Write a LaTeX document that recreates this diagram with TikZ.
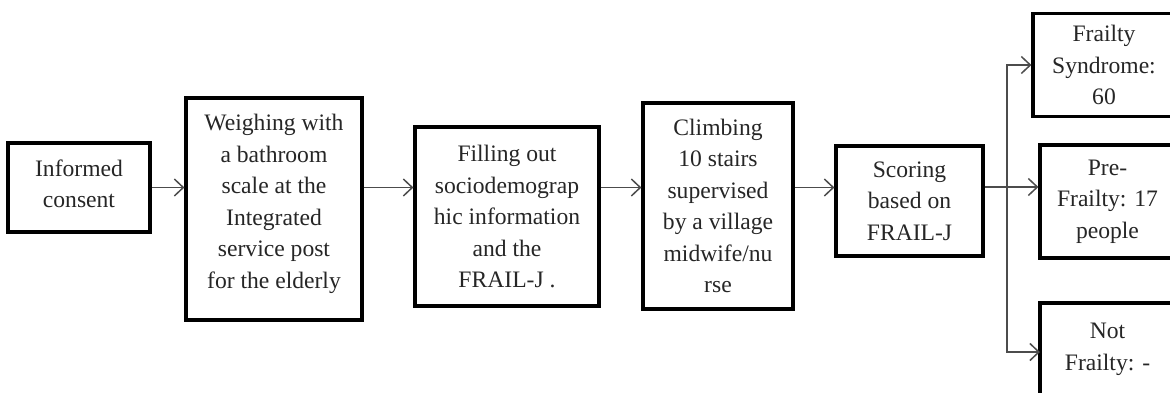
\documentclass[tikz,border=0pt]{standalone}
\usepackage{fontspec}
\setmainfont{Liberation Serif}
\usetikzlibrary{arrows.meta}
\begin{document}
\begin{tikzpicture}[x=1pt,y=-1pt,
  box/.style={draw=black,line width=3.2pt,inner sep=0pt,align=center,
    font=\fontsize{23.6}{31.5}\selectfont,text=black!85},
  arr/.style={draw=black!70,line width=1.5pt,-{Straight Barb[length=9pt,width=17pt,line width=1.5pt]}},
  ln/.style={draw=black!70,line width=1.5pt}]
\clip (0,0) rectangle (1170,392);
\fill[white] (0,0) rectangle (1170,392);
\node[box,minimum width=142pt,minimum height=89pt,text depth=8pt] (b1) at (79,187.5) {Informed\\consent};
\node[box,minimum width=176pt,minimum height=222pt,text depth=15pt] (b2) at (274,209) {Weighing with\\a bathroom\\scale at the\\Integrated\\service post\\for the elderly};
\node[box,minimum width=184pt,minimum height=179pt] (b3) at (507,216.5) {Filling out\\sociodemograp\\hic information\\and the\\FRAIL-J .};
\node[box,minimum width=150pt,minimum height=206pt] (b4) at (718,206) {Climbing\\10 stairs\\supervised\\by a village\\midwife/nu\\rse};
\node[box,minimum width=147pt,minimum height=110pt] (b5) at (909.5,201) {Scoring\\based on\\FRAIL-J};
\node[box,minimum width=142pt,minimum height=103pt,text depth=0pt] (b6) at (1104,65) {Frailty\\Syndrome:\\60};
\node[box,minimum width=135pt,minimum height=113pt] (b7) at (1107.5,201.5) {Pre-\\Frailty: 17\\people};
\node[box,minimum width=135pt,minimum height=128pt] (b8) at (1107.5,367) {Not\\Frailty: -\\\strut};
\coordinate (split) at (1007,187);
\coordinate (b8in) at (1040,352);
\draw[arr] (b1.east) -- (b2.west |- b1.east);
\draw[arr] (b2.east |- b1.east) -- (b3.west |- b1.east);
\draw[arr] (b3.east |- b1.east) -- (b4.west |- b1.east);
\draw[arr] (b4.east |- b1.east) -- (b5.west |- b1.east);
\draw[ln] (b5.east |- split) -- (split);
\draw[arr] (split) |- (b6.west);
\draw[arr] (split) -- (b7.west |- split);
\draw[arr] (split) |- (b8in);
\end{tikzpicture}
\end{document}
